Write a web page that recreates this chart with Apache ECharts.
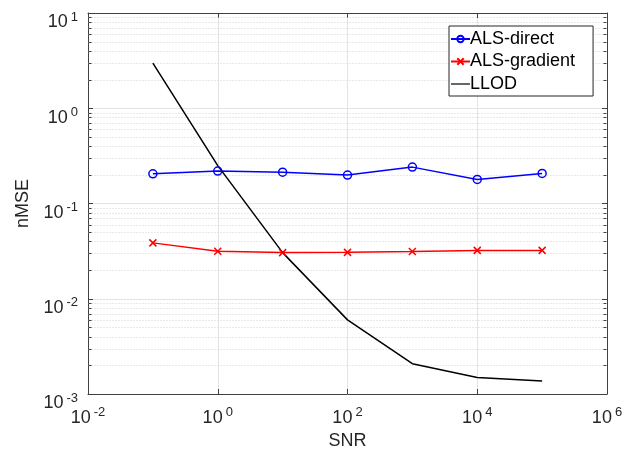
<!DOCTYPE html>
<html><head><meta charset="utf-8">
<script src="https://cdn.jsdelivr.net/npm/echarts@6/dist/echarts.min.js"></script>
<style>html,body{margin:0;padding:0;background:#fff}#c{width:642px;height:457px}</style>
</head><body><div id="c"></div>
<script>
// ---- data ----
const snr = [0.1, 1, 10, 100, 1000, 10000, 100000];
const alsDirect = [0.205, 0.219, 0.213, 0.199, 0.241, 0.179, 0.207];
const alsGradient = [0.0386, 0.0315, 0.0305, 0.0307, 0.0313, 0.0322, 0.0322];
const llod = [2.97, 0.25, 0.0305, 0.006, 0.00208, 0.00149, 0.00137];
const seriesNames = ['ALS-direct', 'ALS-gradient', 'LLOD'];
const xTickExps = [-2, 0, 2, 4, 6];
const yTickExps = [-3, -2, -1, 0, 1];
const xTitle = 'SNR';
const yTitle = 'nMSE';

// ---- helpers ----
const lg = v => Math.log10(v);
const toPts = (xs, ys) => xs.map((x, i) => [lg(x), lg(ys[i])]);
const xMin = xTickExps[0], xMax = xTickExps[xTickExps.length - 1];
const yMin = yTickExps[0], yMax = yTickExps[yTickExps.length - 1];
const minorY = [];
for (let n = yMin; n < yMax; n++) for (let k = 2; k <= 9; k++) minorY.push(n + Math.log10(k));

const FONT = '"Liberation Sans", Arial, Helvetica, sans-serif';
const TXT = '#262626';
const AX = '#404040';
const rich = {
  b: {fontSize: 18, fontFamily: FONT, color: TXT, lineHeight: 21, verticalAlign: 'bottom'},
  s: {fontSize: 13, fontFamily: FONT, color: TXT, lineHeight: 21, verticalAlign: 'top', padding: [0, 0, 0, 3]}
};
const fmt = v => '{b|10}{s|' + Math.round(v) + '}';

const baseAxis = (extra) => Object.assign({
  type: 'value',
  axisLine: {show: true, onZero: false, lineStyle: {color: AX, width: 1}},
  axisTick: {show: true, inside: true, length: 5, lineStyle: {color: AX, width: 1}},
}, extra);

const chart = echarts.init(document.getElementById('c'), null, {renderer: 'canvas'});
chart.setOption({
  animation: false,
  backgroundColor: '#fff',
  grid: {left: 88, right: 35, top: 13, bottom: 63},
  xAxis: [
    baseAxis({min: xMin, max: xMax, interval: 2, position: 'bottom',
      axisLabel: {formatter: fmt, rich: rich, margin: 12},
      splitLine: {show: true, lineStyle: {color: '#e3e3e3', width: 1}},
      name: xTitle, nameLocation: 'middle', nameGap: 35,
      nameTextStyle: {fontSize: 18, fontFamily: FONT, color: TXT}}),
    baseAxis({min: xMin, max: xMax, interval: 2, position: 'top',
      axisLabel: {show: false}, splitLine: {show: false}})
  ],
  yAxis: [
    baseAxis({min: yMin, max: yMax, interval: 1, position: 'left',
      axisLabel: {formatter: fmt, rich: rich, margin: 10, padding: [16, 0, 0, 0]},
      splitLine: {show: true, lineStyle: {color: '#e3e3e3', width: 1}},
      name: yTitle, nameLocation: 'middle', nameGap: 44,
      nameTextStyle: {fontSize: 18, fontFamily: FONT, color: TXT}}),
    baseAxis({min: yMin, max: yMax, interval: 1, position: 'right',
      axisLabel: {show: false}, splitLine: {show: false}})
  ],
  legend: {
    data: [
      {name: seriesNames[0]},
      {name: seriesNames[1]},
      {name: seriesNames[2], icon: 'line', itemStyle: {color: '#000', borderColor: '#000', borderWidth: 1.2}}
    ],
    orient: 'vertical', left: 449, top: 26,
    padding: [4, 18, 3, 1], itemGap: 4.5, itemWidth: 19, itemHeight: 8,
    borderColor: TXT, borderWidth: 1, backgroundColor: '#fff',
    textStyle: {fontSize: 18, fontFamily: FONT, color: '#000', lineHeight: 18, padding: [0, 0, 0, -5]}
  },
  series: [
    {
      type: 'custom', name: 'minor', silent: true, z: 1,
      data: minorY.map(v => [xMin, v]),
      renderItem: (params, api) => {
        const y = api.value(1);
        const p1 = api.coord([xMin, y]);
        const p2 = api.coord([xMax, y]);
        const yy = Math.round(p1[1]) + 0.5;
        const xl = Math.round(p1[0]) + 0.5, xr = Math.round(p2[0]) - 0.5;
        return {type: 'group', children: [
          {type: 'line', shape: {x1: xl, y1: yy, x2: xr, y2: yy}, style: {stroke: '#d3d3d3', lineWidth: 1, lineDash: [1, 2]}},
          {type: 'line', shape: {x1: xl, y1: yy, x2: xl + 3, y2: yy}, style: {stroke: AX, lineWidth: 1}},
          {type: 'line', shape: {x1: xr, y1: yy, x2: xr - 3, y2: yy}, style: {stroke: AX, lineWidth: 1}}
        ]};
      }
    },
    {
      name: seriesNames[0], type: 'line', data: toPts(snr, alsDirect), z: 3,
      symbol: 'circle', symbolSize: 8, showAllSymbol: true,
      lineStyle: {color: '#0000ff', width: 1.5},
      itemStyle: {color: 'rgba(0,0,0,0)', borderColor: '#0000ff', borderWidth: 1.5}
    },
    {
      name: seriesNames[1], type: 'line', data: toPts(snr, alsGradient), z: 3,
      symbol: 'path://M0,0L10,10M10,0L0,10', symbolSize: 7, showAllSymbol: true,
      lineStyle: {color: '#ff0000', width: 1.5},
      itemStyle: {color: '#ff0000', borderColor: '#ff0000', borderWidth: 1.5}
    },
    {
      name: seriesNames[2], type: 'line', data: toPts(snr, llod), z: 3,
      symbol: 'none', lineStyle: {color: '#000000', width: 1.5},
      itemStyle: {color: '#000000'}
    }
  ]
});
</script>
</body></html>
